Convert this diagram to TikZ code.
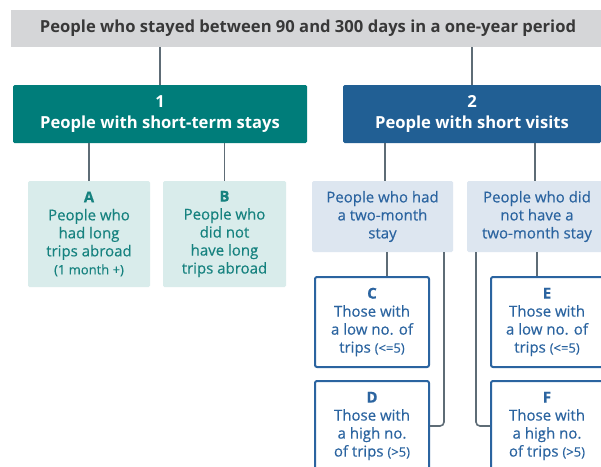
\documentclass[tikz,border=0pt]{standalone}
\usepackage{fontspec}
\setmainfont{Open Sans}
\usetikzlibrary{calc}
\definecolor{titlegray}{HTML}{D5D6D8}
\definecolor{titletext}{HTML}{383838}
\definecolor{tealdark}{HTML}{007D7A}
\definecolor{bluedark}{HTML}{215F94}
\definecolor{tealtext}{HTML}{16827F}
\definecolor{teallight}{HTML}{D9ECEB}
\definecolor{bluetext}{HTML}{2B64A0}
\definecolor{bluelight}{HTML}{DDE6F0}
\definecolor{linegray}{HTML}{5E6C76}
\newcommand{\bodyfont}{\fontsize{15}{18}\selectfont\addfontfeature{FakeBold=0.4}}
\tikzset{
  conn/.style={draw=linegray, line width=1.6pt},
  titlebox/.style={fill=titlegray, text=titletext, inner sep=0pt, align=center,
    font=\fontsize{16.6}{18}\selectfont\bfseries},
  mainbox/.style={rounded corners=1.5pt, text=white, inner sep=0pt, align=center,
    font=\fontsize{16.6}{21}\selectfont\bfseries},
  tealbox/.style={fill=teallight, text=tealtext, rounded corners=1.5pt, inner sep=0pt, align=center,
    font=\bodyfont},
  bluebox/.style={fill=bluelight, text=bluetext, rounded corners=1.5pt, inner sep=0pt, align=center,
    font=\bodyfont},
  outbox/.style={fill=white, draw=bluetext, line width=2pt, text=bluetext, rounded corners=2pt, inner sep=0pt, align=center,
    font=\bodyfont},
}
\newcommand{\smalltxt}[1]{{\fontsize{13}{18}\selectfont #1}}
\newcommand{\lbl}[1]{{\fontsize{15}{18}\selectfont\bfseries #1}}
\begin{document}
\begin{tikzpicture}[x=1pt,y=-1pt]
\useasboundingbox (0,0) rectangle (601,466);
\clip (0,0) rectangle (601,466);
\fill[white] (0,0) rectangle (601,466);

\node[titlebox, minimum width=594pt, minimum height=37pt] (title) at (308,28.5)
  {People who stayed between 90 and 300 days in a one-year period};

\node[mainbox, fill=tealdark, minimum width=294pt, minimum height=58pt] (m1) at (160,114)
  {1\\People with short-term stays};
\node[mainbox, fill=bluedark, minimum width=258pt, minimum height=58pt] (m2) at (472,114)
  {2\\People with short visits};

\node[tealbox, minimum width=122pt, minimum height=106pt] (A) at (89,234)
  {\lbl{A}\\People who\\had long\\trips abroad\\\smalltxt{(1 month +)}};
\node[tealbox, minimum width=123pt, minimum height=106pt] (B) at (224.5,234)
  {\lbl{B}\\People who\\did not\\have long\\trips abroad};

\node[bluebox, minimum width=141pt, minimum height=71pt] (G1) at (382.5,216.5)
  {People who had\\a two-month\\stay};
\node[bluebox, minimum width=140pt, minimum height=71pt] (G2) at (537,216.5)
  {People who did\\not have a\\two-month stay};

\node[outbox, minimum width=114pt, minimum height=90pt] (C) at (372,322)
  {\lbl{C}\\Those with\\a low no. of\\trips \smalltxt{(<=5)}};
\node[outbox, minimum width=114pt, minimum height=90pt] (D) at (372,426)
  {\lbl{D}\\Those with\\a high no.\\of trips \smalltxt{(>5)}};
\node[outbox, minimum width=112pt, minimum height=90pt] (E) at (547,322)
  {\lbl{E}\\Those with\\a low no. of\\trips \smalltxt{(<=5)}};
\node[outbox, minimum width=112pt, minimum height=90pt] (F) at (547,426)
  {\lbl{F}\\Those with\\a high no.\\of trips \smalltxt{(>5)}};

% connectors
\draw[conn] (title.south -| m1.north) -- (m1.north);
\draw[conn] (title.south -| m2.north) -- (m2.north);
\draw[conn] (m1.south -| A.north) -- (A.north);
\draw[conn] (m1.south -| B.north) -- (B.north);
\draw[conn] ([xshift=2.5pt]m2.south -| G1.north) -- ([xshift=2.5pt]G1.north);
\draw[conn] ([xshift=-2pt]m2.south -| G2.north) -- ([xshift=-2pt]G2.north);
\draw[conn] ([xshift=4.5pt]G1.south) -- ([xshift=4.5pt]G1.south |- C.north);
\draw[conn, rounded corners=4pt] ([xshift=61.5pt]G1.south) |- (D.east);
\draw[conn] (G2.south) -- (G2.south |- E.north);
\draw[conn, rounded corners=4pt] ([xshift=-61pt]G2.south) |- (F.west);
\end{tikzpicture}
\end{document}
